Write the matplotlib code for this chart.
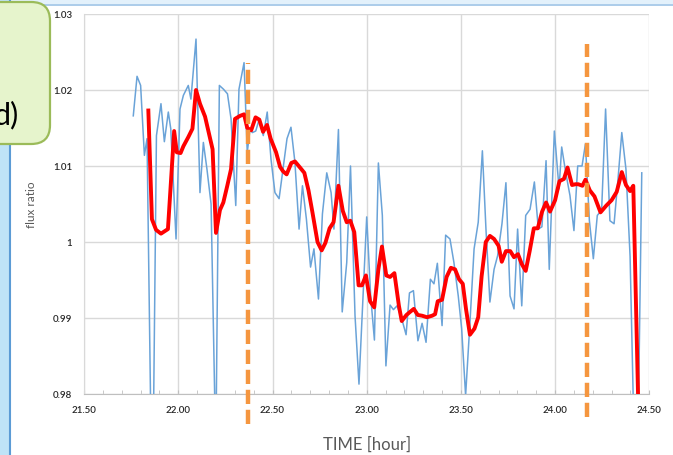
import matplotlib
matplotlib.use('Agg')
import matplotlib.pyplot as plt
from matplotlib.patches import FancyBboxPatch, Rectangle
from matplotlib.lines import Line2D
from matplotlib.ticker import MultipleLocator, FormatStrFormatter

plt.rcParams['font.family'] = ['Lato', 'DejaVu Sans']

# raw flux ratio (blue)
t_raw = [21.761, 21.781, 21.800, 21.820, 21.834, 21.862, 21.884, 21.908, 21.926, 21.947,
         21.960, 21.988, 22.009, 22.027, 22.053, 22.067, 22.094, 22.115, 22.133, 22.152,
         22.174, 22.199, 22.218, 22.240, 22.261, 22.280, 22.305, 22.322, 22.349, 22.366,
         22.381, 22.393, 22.411, 22.430, 22.451, 22.472, 22.492, 22.513, 22.535, 22.556,
         22.577, 22.598, 22.619, 22.641, 22.659, 22.680, 22.702, 22.720, 22.744, 22.765,
         22.788, 22.811, 22.826, 22.850, 22.870, 22.894, 22.914, 22.938, 22.959, 22.982,
         23.000, 23.021, 23.041, 23.062, 23.083, 23.102, 23.124, 23.142, 23.161, 23.186,
         23.209, 23.227, 23.248, 23.272, 23.294, 23.315, 23.338, 23.357, 23.375, 23.400,
         23.419, 23.442, 23.463, 23.486, 23.504, 23.525, 23.548, 23.570, 23.592, 23.614,
         23.633, 23.654, 23.676, 23.695, 23.718, 23.739, 23.761, 23.782, 23.801, 23.823,
         23.844, 23.867, 23.890, 23.911, 23.930, 23.952, 23.969, 23.996, 24.021, 24.035,
         24.056, 24.079, 24.100, 24.120, 24.143, 24.161, 24.182, 24.203, 24.224, 24.247,
         24.268, 24.291, 24.313, 24.334, 24.354, 24.376, 24.398, 24.432, 24.460]
f_raw = [1.0166, 1.0218, 1.0206, 1.0114, 1.0136, 0.9620, 1.0140, 1.0182, 1.0132, 1.0171,
         1.0149, 1.0004, 1.0175, 1.0193, 1.0206, 1.0188, 1.0267, 1.0065, 1.0131, 1.0096,
         1.0050, 0.9720, 1.0206, 1.0201, 1.0195, 1.0162, 1.0048, 1.0201, 1.0236, 1.0118,
         1.0149, 1.0144, 1.0146, 1.0162, 1.0140, 1.0171, 1.0109, 1.0065, 1.0057, 1.0096,
         1.0136, 1.0151, 1.0105, 1.0017, 1.0074, 1.0030, 0.9967, 0.9991, 0.9925, 1.0037,
         1.0091, 1.0065, 1.0017, 1.0148, 0.9908, 0.9973, 1.0100, 0.9903, 0.9813, 0.9938,
         1.0033, 0.9929, 0.9871, 1.0104, 1.0035, 0.9837, 0.9917, 0.9911, 0.9916, 0.9899,
         0.9878, 0.9933, 0.9936, 0.9870, 0.9893, 0.9868, 0.9951, 0.9945, 0.9972, 0.9890,
         1.0009, 1.0004, 0.9973, 0.9929, 0.9886, 0.9798, 0.9894, 0.9991, 1.0026, 1.0120,
         1.0017, 0.9921, 0.9964, 0.9982, 1.0024, 1.0078, 0.9929, 0.9912, 1.0017, 0.9916,
         1.0035, 1.0043, 1.0079, 1.0017, 1.0020, 1.0107, 0.9964, 1.0146, 1.0070, 1.0125,
         1.0092, 1.0061, 1.0015, 1.0100, 1.0100, 1.0129, 1.0028, 0.9978, 1.0035, 1.0042,
         1.0175, 1.0028, 1.0024, 1.0083, 1.0144, 1.0096, 0.9981, 0.9600, 1.0091]

# smoothed flux ratio (red)
t_avg = [21.841, 21.860, 21.882, 21.908, 21.945, 21.978, 21.992, 22.012, 22.027, 22.053,
         22.075, 22.094, 22.115, 22.142, 22.182, 22.200, 22.221, 22.239, 22.260, 22.280,
         22.301, 22.328, 22.349, 22.366, 22.387, 22.410, 22.430, 22.450, 22.471, 22.490,
         22.519, 22.540, 22.556, 22.575, 22.600, 22.619, 22.646, 22.669, 22.691, 22.712,
         22.739, 22.761, 22.781, 22.803, 22.824, 22.850, 22.873, 22.894, 22.913, 22.934,
         22.957, 22.975, 22.996, 23.018, 23.040, 23.062, 23.081, 23.104, 23.124, 23.147,
         23.171, 23.186, 23.211, 23.230, 23.250, 23.271, 23.294, 23.320, 23.347, 23.363,
         23.377, 23.400, 23.424, 23.447, 23.469, 23.490, 23.510, 23.527, 23.548, 23.572,
         23.592, 23.610, 23.632, 23.654, 23.676, 23.700, 23.717, 23.739, 23.762, 23.782,
         23.803, 23.823, 23.844, 23.865, 23.887, 23.908, 23.931, 23.952, 23.973, 24.000,
         24.023, 24.047, 24.066, 24.090, 24.108, 24.123, 24.145, 24.161, 24.184, 24.209,
         24.241, 24.272, 24.300, 24.327, 24.354, 24.376, 24.398, 24.415, 24.442]
f_avg = [1.0173, 1.0030, 1.0016, 1.0011, 1.0017, 1.0146, 1.0118, 1.0117, 1.0126, 1.0138,
         1.0149, 1.0200, 1.0182, 1.0165, 1.0122, 1.0012, 1.0042, 1.0052, 1.0074, 1.0096,
         1.0162, 1.0166, 1.0168, 1.0150, 1.0147, 1.0164, 1.0161, 1.0145, 1.0154, 1.0136,
         1.0118, 1.0099, 1.0093, 1.0089, 1.0104, 1.0106, 1.0098, 1.0091, 1.0068, 1.0039,
         1.0000, 0.9989, 0.9999, 1.0018, 1.0026, 1.0074, 1.0041, 1.0026, 1.0028, 1.0013,
         0.9943, 0.9943, 0.9956, 0.9922, 0.9914, 0.9964, 0.9994, 0.9956, 0.9954, 0.9959,
         0.9916, 0.9896, 0.9904, 0.9908, 0.9912, 0.9904, 0.9903, 0.9901, 0.9903, 0.9905,
         0.9922, 0.9924, 0.9954, 0.9966, 0.9964, 0.9951, 0.9945, 0.9912, 0.9878, 0.9886,
         0.9901, 0.9955, 1.0000, 1.0008, 1.0004, 0.9995, 0.9974, 0.9988, 0.9988, 0.9980,
         0.9984, 0.9971, 0.9962, 0.9988, 1.0018, 1.0018, 1.0040, 1.0052, 1.0040, 1.0055,
         1.0080, 1.0083, 1.0098, 1.0075, 1.0076, 1.0076, 1.0074, 1.0082, 1.0068, 1.0060,
         1.0039, 1.0048, 1.0055, 1.0066, 1.0092, 1.0075, 1.0067, 1.0074, 0.9780]

# event markers (orange dashed)
event_t = [22.372, 24.171]
event_top = [1.0236, 1.0260]
event_bottom = [0.9760, 0.9770]

fig = plt.figure(figsize=(6.73, 4.56), dpi=100)
fig.patch.set_facecolor('white')

# slide frame
fig.add_artist(Rectangle((0, 1 - 5 / 456), 1, 5 / 456, transform=fig.transFigure,
                         facecolor='#e3f1fb', edgecolor='none'))
fig.add_artist(Line2D([0, 1], [1 - 5.5 / 456] * 2, transform=fig.transFigure,
                      color='#9dc3e6', lw=1.2))
fig.add_artist(Rectangle((0, 0), 9 / 673, 1, transform=fig.transFigure,
                         facecolor='#bfe3f7', edgecolor='none'))
fig.add_artist(Line2D([9.5 / 673] * 2, [0, 1], transform=fig.transFigure,
                      color='#5b9bd5', lw=1.5))

ax = fig.add_axes([84.1 / 673, 1 - 395 / 456, 565.2 / 673, 380 / 456])
ax.set_facecolor('white')

ax.plot(t_raw, f_raw, color='#6aa3d8', lw=1.1, zorder=3)
ax.plot(t_avg, f_avg, color='#ff0000', lw=2.8, zorder=4, solid_joinstyle='round')

for t, top, bot in zip(event_t, event_top, event_bottom):
    ax.plot([t, t], [bot, top], color='#f5963f', lw=3.2, dashes=(3.2, 1.3),
            clip_on=False, zorder=5, dash_capstyle='butt')

ax.set_xlim(21.5, 24.5)
ax.set_ylim(0.98, 1.03)
ax.xaxis.set_major_locator(MultipleLocator(0.5))
ax.xaxis.set_minor_locator(MultipleLocator(0.1))
ax.xaxis.set_major_formatter(FormatStrFormatter('%.2f'))
ax.set_yticks([0.98, 0.99, 1.0, 1.01, 1.02, 1.03])
ax.set_yticklabels(['0.98', '0.99', '1', '1.01', '1.02', '1.03'])

ax.grid(True, which='major', color='#d9d9d9', lw=1.0, zorder=0)
for s in ['top', 'right']:
    ax.spines[s].set_visible(False)
ax.spines['left'].set_color('#d9d9d9')
ax.spines['bottom'].set_color('#bfbfbf')

ax.tick_params(axis='y', length=0, pad=8.5, labelsize=7, labelcolor='#262626')
ax.tick_params(axis='x', which='both', direction='in', length=3, color='#bfbfbf',
               pad=8, labelsize=7, labelcolor='#262626')
for lab in ax.get_xticklabels() + ax.get_yticklabels():
    lab.set_fontweight('semibold')

ax.set_ylabel('flux ratio', fontsize=8.5, color='#595959')
ax.yaxis.set_label_coords(-0.083, 0.5)
ax.set_xlabel('TIME [hour]', fontsize=12, color='#595959')
ax.xaxis.set_label_coords(0.5, -0.11)

# panel label box
box = FancyBboxPatch((-0.05, 1 - 145 / 456), 50 / 673 + 0.05, 142 / 456,
                     boxstyle='round,pad=0,rounding_size=0.028',
                     mutation_aspect=673 / 456, transform=fig.transFigure,
                     facecolor='#e6f4cc', edgecolor='#9bbb59', lw=1.6, zorder=10)
fig.add_artist(box)
fig.text(19 / 673, 1 - 115 / 456, 'd)', fontsize=22, color='black',
         ha='right', va='center', zorder=11)

plt.savefig('out.png', dpi=100)
